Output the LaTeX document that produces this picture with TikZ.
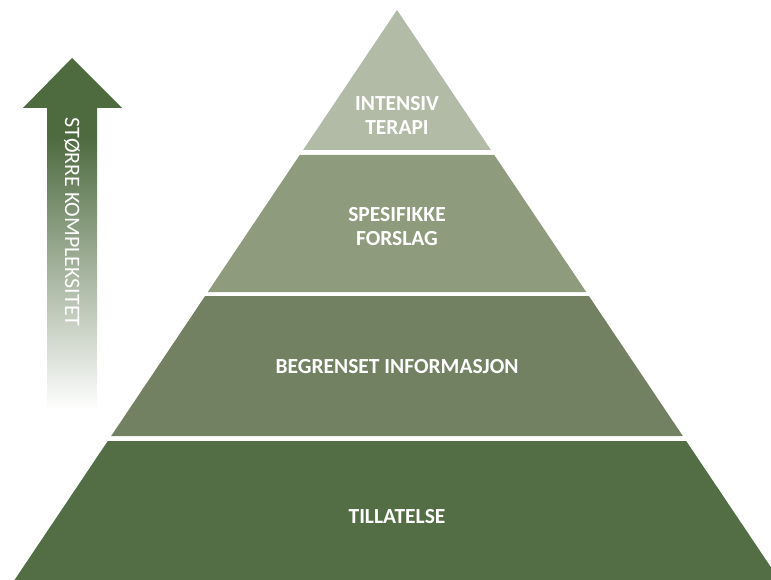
\documentclass[tikz,border=0pt]{standalone}
\usepackage{fontspec}
\setmainfont{Carlito}
\definecolor{tierA}{HTML}{B1BBA5}
\definecolor{tierB}{HTML}{8F9B7D}
\definecolor{tierC}{HTML}{718161}
\definecolor{tierD}{HTML}{536E45}
\definecolor{arrowgreen}{HTML}{4E6B40}
\pgfdeclareverticalshading{arrowfade}{100bp}{color(0bp)=(white); color(26bp)=(white); color(45bp)=(arrowgreen!50!white); color(64bp)=(arrowgreen); color(100bp)=(arrowgreen)}
\tikzset{
  tierlabel/.style={text=white, font=\bfseries\fontsize{21.5}{24}\selectfont, align=center, inner sep=0pt},
  arrowlabel/.style={text=white, font=\fontsize{22}{24}\selectfont, inner sep=0pt, rotate=-90}
}
\begin{document}
\begin{tikzpicture}[x=1pt,y=-1pt]
\useasboundingbox (0,0) rectangle (771,580);
\begin{scope}
\clip (0,0) rectangle (771,580);
\fill[tierA] (397,10) -- (490.9,150) -- (303.1,150) -- cycle;
\fill[tierB] (299.7,155) -- (494.3,155) -- (586.2,292) -- (207.8,292) -- cycle;
\fill[tierC] (205.1,296) -- (588.9,296) -- (682.8,436) -- (111.2,436) -- cycle;
\fill[tierD] (107.8,441) -- (686.2,441) -- (779.5,580) -- (14.5,580) -- cycle;
\end{scope}
\node[tierlabel] (t1) at (397,115) {INTENSIV\\TERAPI};
\node[tierlabel] (t2) at (397,227) {SPESIFIKKE\\FORSLAG};
\node[tierlabel] (t3) at (397,367) {BEGRENSET INFORMASJON};
\node[tierlabel] (t4) at (397,517) {TILLATELSE};
\shade[shading=arrowfade] (72,58) -- (122,108) -- (97,108) -- (97,417) -- (47,417) -- (47,108) -- (23,108) -- cycle;
\node[arrowlabel] (arr) at (72,222) {STØRRE KOMPLEKSITET};
\end{tikzpicture}
\end{document}
